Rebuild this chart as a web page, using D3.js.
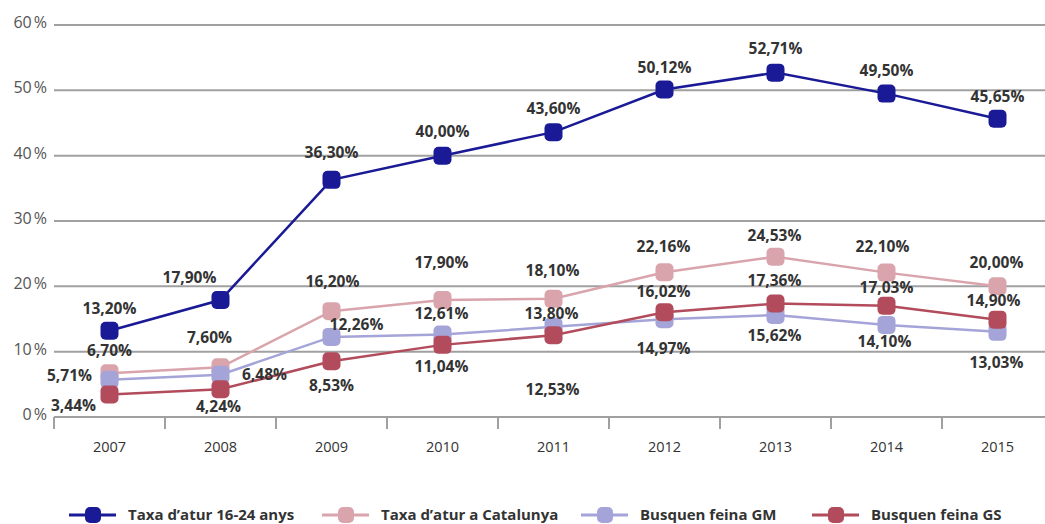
<!DOCTYPE html>
<html>
<head>
<meta charset="utf-8">
<title>Taxa d'atur</title>
<style>
body { margin: 0; background: #fff; }
svg { font-family: "Open Sans", "Noto Sans", sans-serif; }
.grid line { stroke: #a0a0a0; stroke-width: 2; }
.ylab { font-size: 16px; fill: #555; text-anchor: end; }
.xlab { font-size: 14.5px; fill: #333; text-anchor: middle; }
.vlab { font-size: 15.5px; font-weight: bold; fill: #333; text-anchor: middle; }
.leg text { font-size: 15px; font-weight: bold; fill: #333; }
</style>
</head>
<body>
<svg id="chart" width="1045" height="524"></svg>
<script src="https://d3js.org/d3.v7.min.js"></script>
<script>
var years = ["2007", "2008", "2009", "2010", "2011", "2012", "2013", "2014", "2015"];
var yTicks = [0, 10, 20, 30, 40, 50, 60];

var taxa1624 = [13.20, 17.90, 36.30, 40.00, 43.60, 50.12, 52.71, 49.50, 45.65];
var taxaCat  = [6.70, 7.60, 16.20, 17.90, 18.10, 22.16, 24.53, 22.10, 20.00];
var feinaGM  = [5.71, 6.48, 12.26, 12.61, 13.80, 14.97, 15.62, 14.10, 13.03];
var feinaGS  = [3.44, 4.24, 8.53, 11.04, 12.53, 16.02, 17.36, 17.03, 14.90];

var seriesNames = ["Taxa d’atur 16-24 anys", "Taxa d’atur a Catalunya", "Busquen feina GM", "Busquen feina GS"];

// label placement (dx, dy from the marker)
var labelPos = [
  [[0,-22],[-31,-22],[0,-27],[0,-24],[0,-23],[0,-22],[0,-24],[0,-23],[0,-22]],
  [[0,-22],[-11,-29],[1,-29],[-1,-37],[-1,-28],[-1,-25],[-1,-21],[-4,-26],[-1,-23]],
  [[-40,-4],[44,0],[25,-12],[-1,-21],[-2,-13],[-1,30],[-1,21],[-2,17],[-1,31]],
  [[-36,11],[-2,18],[0,25],[-1,22],[-1,55],[-1,-20],[-1,-23],[0,-18],[-4,-19]]
];

var colors = ["#1a1a96", "#d9a4ac", "#a4a4d8", "#b24b5b"];
var seriesData = [taxa1624, taxaCat, feinaGM, feinaGS];

var svg = d3.select("#chart");
var x = d3.scaleBand().domain(years).range([54, 1053]);
var y = d3.scaleLinear().domain([0, 60]).range([417, 25]);

// grid
svg.append("g").attr("class", "grid").selectAll("line")
  .data(yTicks).enter().append("line")
  .attr("x1", 54).attr("x2", 1045)
  .attr("y1", function (d) { return y(d); })
  .attr("y2", function (d) { return y(d); });

var yl = svg.append("g").selectAll("text")
  .data(yTicks).enter().append("text")
  .attr("class", "ylab")
  .attr("x", 47).attr("y", function (d) { return y(d) + 3; });
yl.append("tspan").text(function (d) { return d; });
yl.append("tspan").attr("dx", 2).text("%");

// x ticks
var xt = years.map(function (d) { return x(d); }).concat([x.range()[1]]);
svg.append("g").selectAll("line")
  .data(xt).enter().append("line")
  .attr("x1", function (d) { return d; }).attr("x2", function (d) { return d; })
  .attr("y1", 417).attr("y2", 429)
  .attr("stroke", "#a0a0a0").attr("stroke-width", 2);

svg.append("g").selectAll("text")
  .data(years).enter().append("text")
  .attr("class", "xlab")
  .attr("x", function (d) { return x(d) + x.bandwidth() / 2; })
  .attr("y", 452)
  .text(function (d) { return d; });

var cx = function (i) { return x(years[i]) + x.bandwidth() / 2; };
var line = d3.line()
  .x(function (d, i) { return cx(i); })
  .y(function (d) { return y(d); });

var drawOrder = [1, 2, 3, 0];
var ms = 18;
drawOrder.forEach(function (s) {
  var g = svg.append("g");
  g.append("path").datum(seriesData[s])
    .attr("d", line).attr("fill", "none")
    .attr("stroke", colors[s]).attr("stroke-width", 2.5);
  g.selectAll("rect").data(seriesData[s]).enter().append("rect")
    .attr("x", function (d, i) { return cx(i) - ms / 2; })
    .attr("y", function (d) { return y(d) - ms / 2; })
    .attr("width", ms).attr("height", ms)
    .attr("rx", 5).attr("fill", colors[s]);
});

drawOrder.forEach(function (s) {
  svg.append("g").selectAll("text").data(seriesData[s]).enter().append("text")
    .attr("class", "vlab")
    .attr("x", function (d, i) { return cx(i) + labelPos[s][i][0]; })
    .attr("y", function (d, i) { return y(d) + labelPos[s][i][1] + 5; })
    .text(function (d) { return d.toFixed(2).replace(".", ",") + "%"; });
});

// legend
var legX = [69, 322, 581, 812];
var leg = svg.append("g").attr("class", "leg");
seriesNames.forEach(function (name, i) {
  var g = leg.append("g").attr("transform", "translate(" + legX[i] + ",515)");
  g.append("line").attr("x1", 0).attr("x2", 47)
    .attr("stroke", colors[i]).attr("stroke-width", 3);
  g.append("rect").attr("x", 16).attr("y", -8).attr("width", 16).attr("height", 16)
    .attr("rx", 5).attr("fill", colors[i]);
  g.append("text").attr("x", 59).attr("y", 5).text(name);
});
</script>
</body>
</html>
